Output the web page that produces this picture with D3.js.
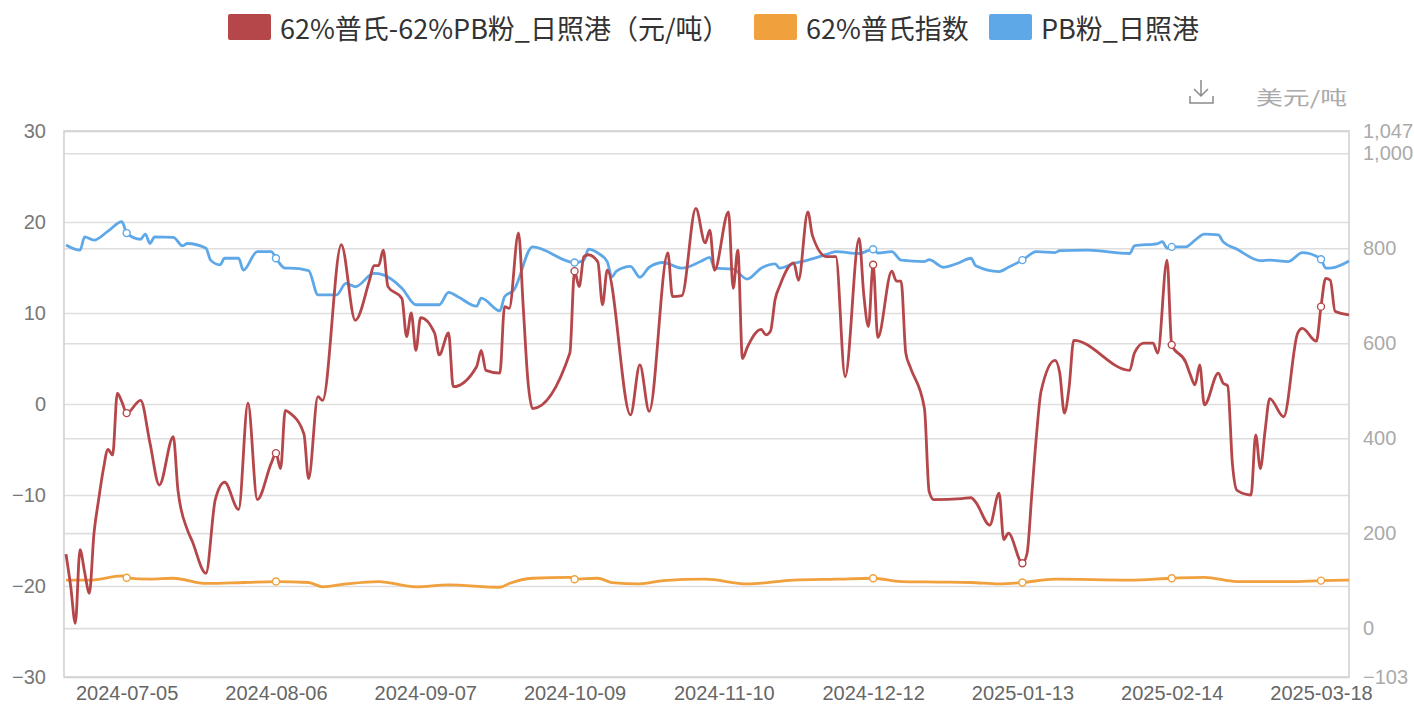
<!DOCTYPE html>
<html>
<head>
<meta charset="utf-8">
<script src="https://cdn.jsdelivr.net/npm/d3@7"></script>
<style>
  html, body { margin: 0; padding: 0; background: #fff; }
  svg { display: block; font-family: "Noto Sans CJK SC", "Noto Sans", sans-serif; }
</style>
</head>
<body>
<div id="chart"></div>
<script>
// series names & colours
const seriesNames = ["62%普氏-62%PB粉_日照港（元/吨）", "62%普氏指数", "PB粉_日照港"];
const seriesColors = ["#B5474A", "#F0A03C", "#5FA8E8"];

// axis ticks
const xTickDates = ["2024-07-05","2024-08-06","2024-09-07","2024-10-09","2024-11-10","2024-12-12","2025-01-13","2025-02-14","2025-03-18"];
const leftTicks = [-30, -20, -10, 0, 10, 20, 30];
const rightTicks = [-103, 0, 200, 400, 600, 800, 1000, 1047];
const unitLabel = "美元/吨";

// spread (left axis)
const spreadDates = [
  "2024-06-22","2024-06-23","2024-06-24","2024-06-25","2024-06-26","2024-06-27","2024-06-28","2024-06-29","2024-06-30",
  "2024-07-01","2024-07-02","2024-07-03","2024-07-04","2024-07-05","2024-07-08","2024-07-10","2024-07-12","2024-07-15",
  "2024-07-16","2024-07-18","2024-07-19","2024-07-22","2024-07-24","2024-07-26","2024-07-29","2024-07-31","2024-08-02",
  "2024-08-05","2024-08-06","2024-08-07","2024-08-08","2024-08-09","2024-08-12","2024-08-13","2024-08-15","2024-08-16",
  "2024-08-20","2024-08-23","2024-08-26","2024-08-27","2024-08-28","2024-08-29","2024-08-30","2024-09-02","2024-09-03",
  "2024-09-04","2024-09-05","2024-09-06","2024-09-09","2024-09-10","2024-09-12","2024-09-13","2024-09-18","2024-09-19",
  "2024-09-20","2024-09-23","2024-09-24","2024-09-25","2024-09-27","2024-09-28","2024-09-29","2024-09-30","2024-10-08",
  "2024-10-09","2024-10-10","2024-10-11","2024-10-12","2024-10-14","2024-10-15","2024-10-16","2024-10-21","2024-10-23",
  "2024-10-25","2024-10-29","2024-10-30","2024-11-01","2024-11-04","2024-11-06","2024-11-07","2024-11-08","2024-11-11",
  "2024-11-12","2024-11-13","2024-11-14","2024-11-15","2024-11-18","2024-11-19","2024-11-20","2024-11-21","2024-11-22",
  "2024-11-25","2024-11-26","2024-11-28","2024-11-29","2024-12-02","2024-12-04","2024-12-06","2024-12-09","2024-12-10",
  "2024-12-11","2024-12-12","2024-12-13","2024-12-16","2024-12-17","2024-12-18","2024-12-19","2024-12-20","2024-12-23",
  "2024-12-24","2024-12-25","2024-12-31","2025-01-02","2025-01-03","2025-01-06","2025-01-08","2025-01-09","2025-01-10",
  "2025-01-13","2025-01-14","2025-01-15","2025-01-16","2025-01-17","2025-01-20","2025-01-21","2025-01-22","2025-01-23",
  "2025-01-24","2025-02-05","2025-02-06","2025-02-08","2025-02-10","2025-02-11","2025-02-13","2025-02-14","2025-02-17",
  "2025-02-18","2025-02-19","2025-02-20","2025-02-21","2025-02-24","2025-02-25","2025-02-26","2025-02-27","2025-02-28",
  "2025-03-03","2025-03-04","2025-03-05","2025-03-06","2025-03-07","2025-03-10","2025-03-13","2025-03-14","2025-03-17",
  "2025-03-18","2025-03-19","2025-03-20","2025-03-21","2025-03-24"
];
const spreadValues = [
  -16.5,-20.0,-24.1,-16.0,-18.5,-20.8,-14.2,-10.5,-7.2,
  -5.0,-5.6,1.2,0.2,-1.0,0.4,-4.3,-8.9,-3.6,
  -9.5,-13.8,-15.0,-18.6,-10.5,-8.6,-11.6,0.1,-10.5,
  -6.5,-5.4,-7.1,-0.7,-1.0,-3.3,-8.2,0.8,0.4,
  17.5,9.2,13.5,15.2,15.2,16.9,12.9,11.6,7.4,
  10.0,5.9,9.5,7.8,5.4,7.8,1.9,4.1,5.9,
  3.7,3.4,10.7,10.5,18.8,10.7,2.6,-0.5,5.6,
  14.6,12.9,16.2,16.4,15.6,10.9,14.7,-1.2,4.3,
  -0.8,16.6,11.8,11.9,21.5,17.7,19.1,14.7,21.1,
  12.7,16.9,5.0,6.2,8.2,7.6,8.0,11.5,13.0,
  15.5,13.6,21.1,18.5,16.2,16.2,3.0,18.2,12.0,
  8.5,15.3,7.3,14.6,13.5,13.5,5.6,4.0,-0.5,
  -9.6,-10.5,-10.4,-10.3,-10.8,-13.3,-9.8,-14.9,-14.2,
  -17.5,-16.4,-10.0,-3.5,1.4,4.8,3.4,-1.0,1.8,
  7.0,3.7,5.6,6.7,6.7,5.6,15.8,6.5,4.6,
  3.2,2.1,4.3,-0.1,3.4,2.3,2.0,-6.5,-9.5,
  -10.0,-3.4,-7.1,-3.0,0.6,-1.4,7.8,8.3,6.9,
  10.7,13.8,13.6,10.2,9.8
];

// 62% index (right axis)
const indexDates = [
  "2024-06-22","2024-06-27","2024-07-04","2024-07-05","2024-07-10","2024-07-15","2024-07-22","2024-07-30","2024-08-06",
  "2024-08-13","2024-08-16","2024-08-21","2024-08-28","2024-09-05","2024-09-12","2024-09-23","2024-09-25","2024-09-30",
  "2024-10-08","2024-10-09","2024-10-14","2024-10-17","2024-10-23","2024-10-28","2024-11-06","2024-11-15","2024-11-25",
  "2024-12-04","2024-12-12","2024-12-18","2024-12-26","2025-01-02","2025-01-08","2025-01-13","2025-01-20","2025-02-05",
  "2025-02-14","2025-02-21","2025-02-28","2025-03-11","2025-03-18","2025-03-24"
];
const indexValues = [
  101,101,110,106,103,105,94,96,98,
  96,87,93,98,87,91,86,94,105,
  107,103,105,96,93,100,103,93,101,
  103,105,98,97,96,93,96,103,101,
  105,107,98,98,100,101
];

// PB fines Rizhao (right axis)
const pbDates = [
  "2024-06-22","2024-06-25","2024-06-26","2024-06-28","2024-07-01","2024-07-04","2024-07-05","2024-07-08","2024-07-09",
  "2024-07-10","2024-07-11","2024-07-15","2024-07-17","2024-07-18","2024-07-22","2024-07-23","2024-07-25","2024-07-26",
  "2024-07-29","2024-07-30","2024-08-02","2024-08-05","2024-08-06","2024-08-08","2024-08-09","2024-08-13","2024-08-15",
  "2024-08-19","2024-08-21","2024-08-23","2024-08-27","2024-08-29","2024-09-02","2024-09-05","2024-09-10","2024-09-12",
  "2024-09-14","2024-09-18","2024-09-19","2024-09-23","2024-09-24","2024-09-26","2024-09-30","2024-10-09","2024-10-11",
  "2024-10-12","2024-10-14","2024-10-16","2024-10-17","2024-10-18","2024-10-21","2024-10-23","2024-10-25","2024-10-28",
  "2024-11-01","2024-11-05","2024-11-07","2024-11-08","2024-11-12","2024-11-15","2024-11-18","2024-11-21","2024-11-22",
  "2024-11-25","2024-11-28","2024-12-02","2024-12-04","2024-12-09","2024-12-12","2024-12-13","2024-12-16","2024-12-18",
  "2024-12-23","2024-12-24","2024-12-26","2024-12-27","2024-12-30","2025-01-02","2025-01-03","2025-01-08","2025-01-10",
  "2025-01-13","2025-01-16","2025-01-20","2025-01-21","2025-01-27","2025-02-05","2025-02-06","2025-02-11","2025-02-12",
  "2025-02-13","2025-02-14","2025-02-17","2025-02-19","2025-02-21","2025-02-24","2025-02-25","2025-02-28","2025-03-05",
  "2025-03-07","2025-03-11","2025-03-14","2025-03-18","2025-03-19","2025-03-21","2025-03-24"
];
const pbValues = [
  807,796,824,817,836,856,832,819,830,
  810,824,823,805,810,800,775,765,779,
  779,754,793,793,779,758,758,753,702,
  702,726,719,747,744,716,681,681,707,
  698,678,695,668,698,712,803,770,775,
  798,790,772,740,752,762,739,760,770,
  758,772,781,758,756,735,758,767,758,
  768,775,787,793,789,798,790,793,775,
  772,776,765,760,768,779,763,751,760,
  775,793,791,795,796,789,805,810,814,
  800,803,803,817,830,828,814,798,774,
  775,772,791,777,758,760,773
];

const W = 1414, H = 709;
const plotL = 64, plotR = 1349, plotT = 131, plotB = 677;
const parse = d3.timeParse("%Y-%m-%d");

const svg = d3.select("#chart").append("svg")
  .attr("width", W).attr("height", H);

const x = d3.scaleTime()
  .domain([parse("2024-06-22"), parse("2025-03-24")])
  .range([plotL + 2, plotR]);
const yL = d3.scaleLinear().domain([-30, 30]).range([plotB, plotT]);
const yR = d3.scaleLinear().domain([-103, 1047]).range([plotB, plotT]);

// grid + axes
const gridColor = "#dedede";

const leftAxis = svg.append("g")
  .attr("transform", `translate(${plotL},0)`)
  .call(d3.axisLeft(yL).tickValues(leftTicks).tickSize(-(plotR - plotL)).tickSizeOuter(0).tickPadding(18));
leftAxis.select(".domain").remove();
leftAxis.selectAll("line").attr("stroke", gridColor).attr("stroke-width", 1.6);
leftAxis.selectAll("text").attr("fill", "#777").style("font-size", "20px");

const rightAxis = svg.append("g")
  .attr("transform", `translate(${plotR},0)`)
  .call(d3.axisRight(yR).tickValues(rightTicks).tickSize(-(plotR - plotL)).tickSizeOuter(0).tickPadding(14).tickFormat(d3.format(",")));
rightAxis.select(".domain").remove();
rightAxis.selectAll("line").attr("stroke", gridColor).attr("stroke-width", 1.6);
rightAxis.selectAll("text").attr("fill", "#aaa").style("font-size", "20px");

const xAxis = svg.append("g")
  .attr("transform", `translate(0,${plotB})`)
  .call(d3.axisBottom(x).tickValues(xTickDates.map(parse)).tickSize(0).tickPadding(9).tickFormat(d3.timeFormat("%Y-%m-%d")));
xAxis.select(".domain").remove();
xAxis.selectAll("text").attr("fill", "#666").style("font-size", "20px");

// plot frame
svg.append("rect")
  .attr("x", plotL).attr("y", plotT)
  .attr("width", plotR - plotL).attr("height", plotB - plotT)
  .attr("fill", "none").attr("stroke", "#d2d2d2").attr("stroke-width", 1.6);

// lines
function series(dates, values) {
  return dates.map((d, i) => ({ date: parse(d), key: d, value: values[i] }));
}
const allSeries = [
  { data: series(spreadDates, spreadValues), y: yL, color: seriesColors[0] },
  { data: series(indexDates, indexValues), y: yR, color: seriesColors[1] },
  { data: series(pbDates, pbValues), y: yR, color: seriesColors[2] }
];

const drawOrder = [2, 1, 0];
drawOrder.forEach(i => {
  const s = allSeries[i];
  const line = d3.line()
    .x(d => x(d.date))
    .y(d => s.y(d.value))
    .curve(d3.curveMonotoneX);
  svg.append("path")
    .datum(s.data)
    .attr("d", line)
    .attr("fill", "none")
    .attr("stroke", s.color)
    .attr("stroke-width", 2.8)
    .attr("stroke-linejoin", "round");
});

// hollow markers on label dates
drawOrder.forEach(i => {
  const s = allSeries[i];
  svg.selectAll(null)
    .data(s.data.filter(d => xTickDates.includes(d.key)))
    .join("circle")
    .attr("cx", d => x(d.date))
    .attr("cy", d => s.y(d.value))
    .attr("r", 3.5)
    .attr("fill", "#fff")
    .attr("stroke", s.color)
    .attr("stroke-width", 1.4);
});

// legend (item x positions as in the original layout)
const legendX = [228, 754, 989];
seriesNames.forEach((name, i) => {
  const g = svg.append("g").attr("transform", `translate(${legendX[i]},0)`);
  g.append("rect")
    .attr("x", 0).attr("y", 14).attr("width", 43).attr("height", 26)
    .attr("rx", 2).attr("fill", seriesColors[i]);
  g.append("text")
    .attr("x", 52).attr("y", 27)
    .attr("dominant-baseline", "central")
    .attr("fill", "#333")
    .style("font-size", "27px")
    .text(name);
});

// toolbox download icon + unit label
const icon = svg.append("g")
  .attr("fill", "none").attr("stroke", "#8a8a8a").attr("stroke-width", 1.5);
icon.append("path").attr("d", "M1201,80 V96 M1194,89 L1201,96 L1208,89");
icon.append("path").attr("d", "M1190,96 V103 H1213 V96");

svg.append("text")
  .attr("x", 1256).attr("y", 96)
  .attr("dominant-baseline", "central")
  .attr("fill", "#aaa")
  .attr("textLength", 91)
  .attr("lengthAdjust", "spacingAndGlyphs")
  .style("font-size", "19px")
  .text(unitLabel);
</script>
</body>
</html>
